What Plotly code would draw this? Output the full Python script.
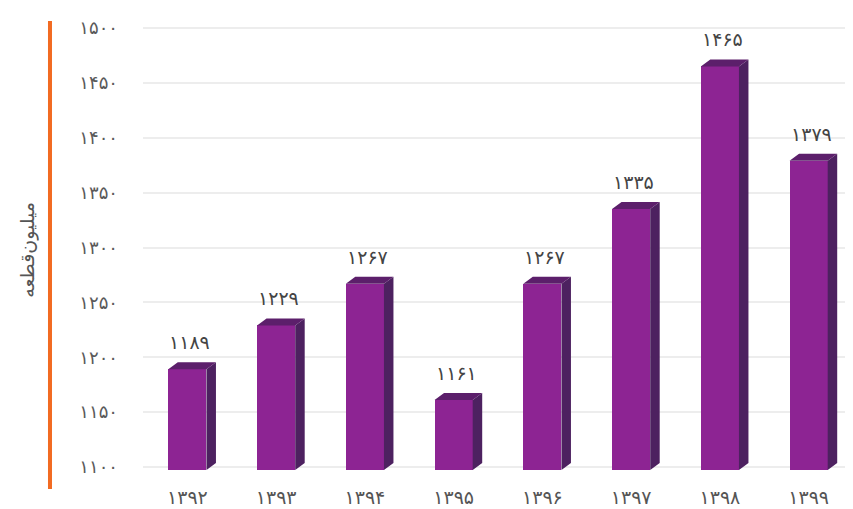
import plotly.graph_objects as go

years = ["۱۳۹۲", "۱۳۹۳", "۱۳۹۴", "۱۳۹۵", "۱۳۹۶", "۱۳۹۷", "۱۳۹۸", "۱۳۹۹"]
values = [1189, 1229, 1267, 1161, 1267, 1335, 1465, 1379]
value_labels = ["۱۱۸۹", "۱۲۲۹", "۱۲۶۷", "۱۱۶۱", "۱۲۶۷", "۱۳۳۵", "۱۴۶۵", "۱۳۷۹"]
y_ticks = [1100, 1150, 1200, 1250, 1300, 1350, 1400, 1450, 1500]
y_tick_labels = ["۱۱۰۰", "۱۱۵۰", "۱۲۰۰", "۱۲۵۰", "۱۳۰۰", "۱۳۵۰", "۱۴۰۰", "۱۴۵۰", "۱۵۰۰"]
y_title = "میلیون‌قطعه"

FRONT = "#8D2493"
SIDE = "#4D2160"
TOP = "#5C1F6B"
FONT = "DejaVu Sans"

base = 1097.3
w = 0.43      # front face width (category units)
dx = 0.107    # depth offset x (category units)
dy = 6.4      # depth offset y (value units)

xs = list(range(len(values)))

fig = go.Figure()

fig.add_trace(go.Bar(
    x=xs, y=[v - base for v in values], base=base, width=w,
    marker=dict(color=FRONT, line=dict(width=0)),
    hoverinfo="skip", showlegend=False,
))

side_x, side_y, top_x, top_y = [], [], [], []
for c, v in zip(xs, values):
    r = c + w / 2
    l = c - w / 2
    side_x += [r, r + dx, r + dx, r, r, None]
    side_y += [base, base + dy, v + dy, v, base, None]
    top_x += [l, l + dx, r + dx, r, l, None]
    top_y += [v, v + dy, v + dy, v, v, None]

fig.add_trace(go.Scatter(x=side_x, y=side_y, fill="toself", fillcolor=SIDE,
                         mode="lines", line=dict(width=0, color=SIDE),
                         hoverinfo="skip", showlegend=False))
fig.add_trace(go.Scatter(x=top_x, y=top_y, fill="toself", fillcolor=TOP,
                         mode="lines", line=dict(width=0, color=TOP),
                         hoverinfo="skip", showlegend=False))

for c, v, t in zip(xs, values, value_labels):
    fig.add_annotation(x=c + dx / 4, y=v + dy, text=t, showarrow=False,
                       yanchor="bottom", yshift=7,
                       font=dict(family=FONT, size=19, color="#444444"))

fig.add_annotation(xref="paper", yref="paper", x=-0.182, y=0.5, text=y_title,
                   textangle=-90, showarrow=False,
                   font=dict(family=FONT, size=19, color="#555555"))

fig.add_shape(type="line", xref="paper", yref="paper",
              x0=-0.131, x1=-0.131, y0=-0.022, y1=0.998,
              line=dict(color="#F26B22", width=4))

# page body has an 8px margin, so the figure is 8px smaller than the window
fig.update_layout(
    width=845, height=501,
    margin=dict(l=135, r=0, t=12, b=30),
    plot_bgcolor="white", paper_bgcolor="white",
    bargap=0,
    xaxis=dict(range=[-0.5, 7.5], tickvals=xs, ticktext=years,
               showgrid=False, zeroline=False, showline=False,
               ticks="", ticklabelstandoff=5,
               tickfont=dict(family=FONT, size=19, color="#555555")),
    yaxis=dict(range=[1089.1, 1507.3], tickvals=y_ticks, ticktext=y_tick_labels,
               showgrid=True, gridcolor="#EDEDED", gridwidth=2,
               zeroline=False, showline=False, ticks="", ticklabelstandoff=24,
               tickfont=dict(family=FONT, size=18, color="#5A5A5A")),
)

fig.write_html("out.html")
